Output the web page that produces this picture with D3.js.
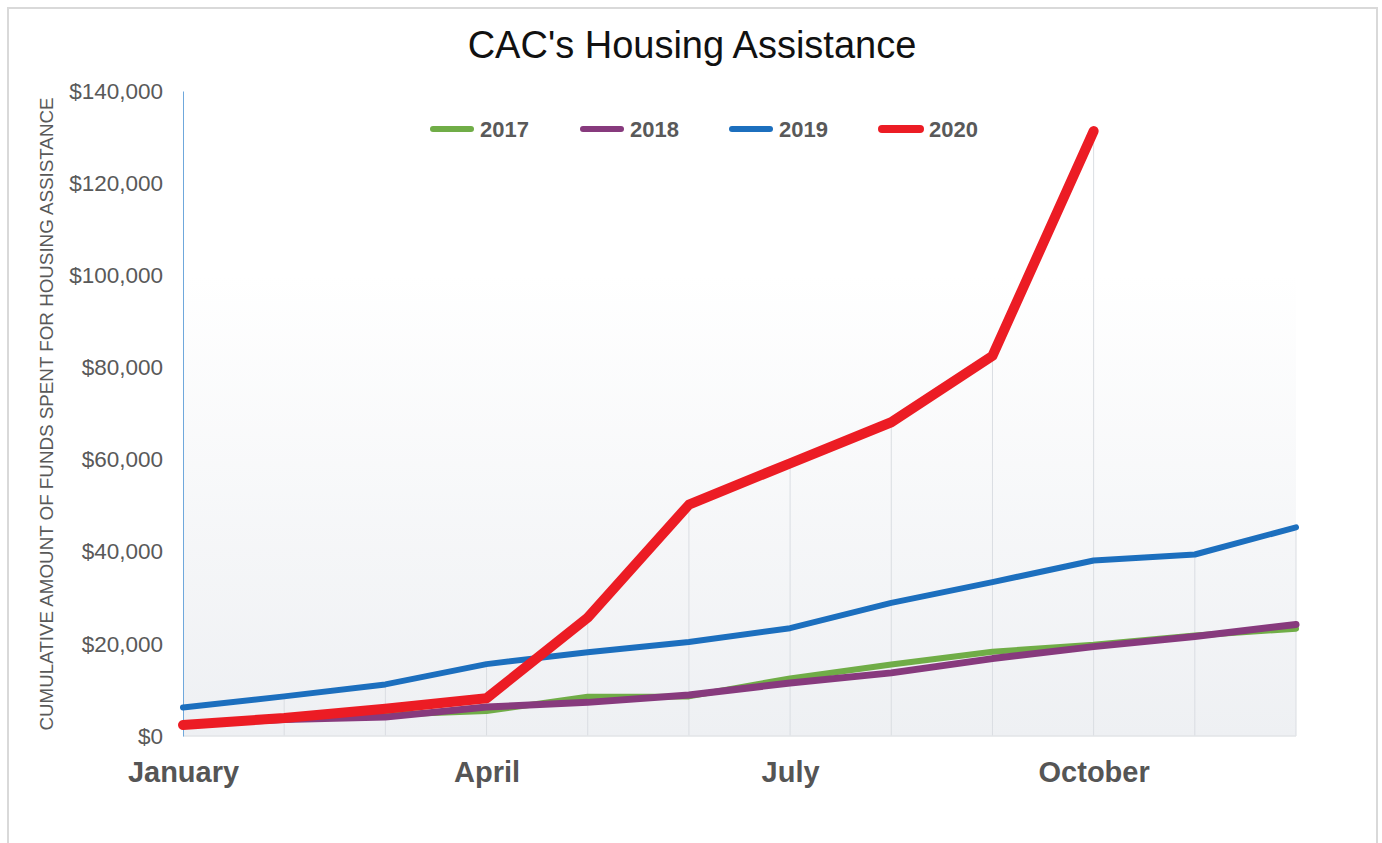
<!DOCTYPE html>
<html lang="en">
<head>
    <meta charset="UTF-8">
    <title>CAC's Housing Assistance</title>
    <script src="https://d3js.org/d3.v7.min.js"></script>
    <style>
        body {
            margin: 0px; padding: 0px;
            background: #fff;
            font-family: "Liberation Sans", Arial, sans-serif;
            overflow: hidden;
        }
    </style>
</head>
<body>
    <svg id="chart"></svg>
    <script>
        const width = 1382, height = 843;
        const margin = { top: 91, right: 86, bottom: 107, left: 183 };

        const months = ["January", "February", "March", "April", "May", "June",
                        "July", "August", "September", "October", "November", "December"];
        const monthLabels = ["January", "April", "July", "October"];
        const yTicks = [0, 20000, 40000, 60000, 80000, 100000, 120000, 140000];

        const years = ["2017", "2018", "2019", "2020"];
        const colors = ["#70ad47", "#873a7d", "#1c6fbe", "#ec1c24"];
        const strokes = [6, 7, 6, 10];

        const values2017 = [2500, 3600, 4600, 5400, 8500, 8600, 12500, 15500, 18300, 19800, 21800, 23300];
        const values2018 = [2500, 3600, 4100, 6300, 7300, 8900, 11500, 13700, 16800, 19400, 21600, 24200];
        const values2019 = [6200, 8600, 11200, 15600, 18200, 20400, 23400, 28900, 33400, 38100, 39400, 45300];
        const values2020 = [2400, 3900, 5900, 8200, 25700, 50200, 59200, 68100, 82500, 131300];

        const allValues = [values2017, values2018, values2019, values2020];

        const svg = d3.select("#chart")
            .attr("width", width)
            .attr("height", height);

        // outer frame
        svg.append("rect")
            .attr("x", 8).attr("y", 8)
            .attr("width", 1369).attr("height", 850)
            .attr("fill", "#fff")
            .attr("stroke", "#d9d9d9")
            .attr("stroke-width", 2);

        const x = d3.scalePoint().domain(months).range([margin.left, width - margin.right]);
        const y = d3.scaleLinear().domain([0, 140000]).range([height - margin.bottom, margin.top]);

        // background gradient of plot area
        const grad = svg.append("defs").append("linearGradient")
            .attr("id", "bg").attr("x1", 0).attr("y1", 0).attr("x2", 0).attr("y2", 1);
        grad.append("stop").attr("offset", "0%").attr("stop-color", "#ffffff");
        grad.append("stop").attr("offset", "100%").attr("stop-color", "#eef0f3");

        svg.append("rect")
            .attr("x", x("January"))
            .attr("y", y(100000))
            .attr("width", x("December") - x("January"))
            .attr("height", y(0) - y(100000))
            .attr("fill", "url(#bg)");

        // drop lines from the highest point of each month down to the axis
        const tops = months.map((m, i) => d3.max(allValues, s => s[i]));
        svg.append("g")
            .selectAll("line")
            .data(months.slice(1))
            .enter().append("line")
            .attr("x1", d => x(d)).attr("x2", d => x(d))
            .attr("y1", y(0))
            .attr("y2", (d, i) => y(tops[i + 1]))
            .attr("stroke", "#dadde2")
            .attr("stroke-width", 1);

        svg.append("line")
            .attr("x1", x("January")).attr("x2", x("December"))
            .attr("y1", y(0)).attr("y2", y(0))
            .attr("stroke", "#e2e4e7")
            .attr("stroke-width", 1.5);

        // y axis
        const yAxis = svg.append("g")
            .attr("transform", `translate(${margin.left},0)`)
            .call(d3.axisLeft(y).tickValues(yTicks).tickSize(0).tickPadding(20)
                .tickFormat(d => "$" + d3.format(",")(d)));
        yAxis.select(".domain").attr("stroke", "#6fa8dc").attr("stroke-width", 1);
        yAxis.selectAll("text")
            .style("font-family", "'Liberation Sans', Arial, sans-serif")
            .style("font-size", "22.5px")
            .attr("fill", "#595959");

        // x axis labels
        const xAxis = svg.append("g")
            .attr("transform", `translate(0,${y(0)})`)
            .call(d3.axisBottom(x).tickValues(monthLabels).tickSize(0).tickPadding(25));
        xAxis.select(".domain").remove();
        xAxis.selectAll("text")
            .style("font-family", "'Liberation Sans', Arial, sans-serif")
            .style("font-size", "29px")
            .style("font-weight", "bold")
            .attr("fill", "#555555");

        // lines
        const line = d3.line()
            .x((d, i) => x(months[i]))
            .y(d => y(d));

        svg.append("g")
            .selectAll("path")
            .data(allValues)
            .enter().append("path")
            .attr("d", d => line(d))
            .attr("fill", "none")
            .attr("stroke", (d, i) => colors[i])
            .attr("stroke-width", (d, i) => strokes[i])
            .attr("stroke-linejoin", "round")
            .attr("stroke-linecap", "round");

        // title
        svg.append("text")
            .attr("x", 692)
            .attr("y", 58)
            .attr("text-anchor", "middle")
            .style("font-size", "38px")
            .attr("fill", "#111")
            .text("CAC's Housing Assistance");

        // y label
        svg.append("text")
            .attr("transform", "rotate(-90)")
            .attr("x", -414)
            .attr("y", 53)
            .attr("text-anchor", "middle")
            .style("font-size", "18.8px")
            .attr("fill", "#595959")
            .text("CUMULATIVE AMOUNT OF FUNDS SPENT FOR HOUSING ASSISTANCE");

        // legend
        const legendX = [431, 581, 730, 880];
        const legend = svg.append("g");
        years.forEach((yr, i) => {
            const g = legend.append("g").attr("transform", `translate(${legendX[i]},129)`);
            g.append("line")
                .attr("x1", 2).attr("x2", 40)
                .attr("y1", 0).attr("y2", 0)
                .attr("stroke", colors[i])
                .attr("stroke-width", i === 3 ? 8 : 6)
                .attr("stroke-linecap", "round");
            g.append("text")
                .attr("x", 49)
                .attr("y", 8)
                .style("font-size", "22px")
                .style("font-weight", "bold")
                .attr("fill", "#595959")
                .text(yr);
        });
    </script>
</body>
</html>
